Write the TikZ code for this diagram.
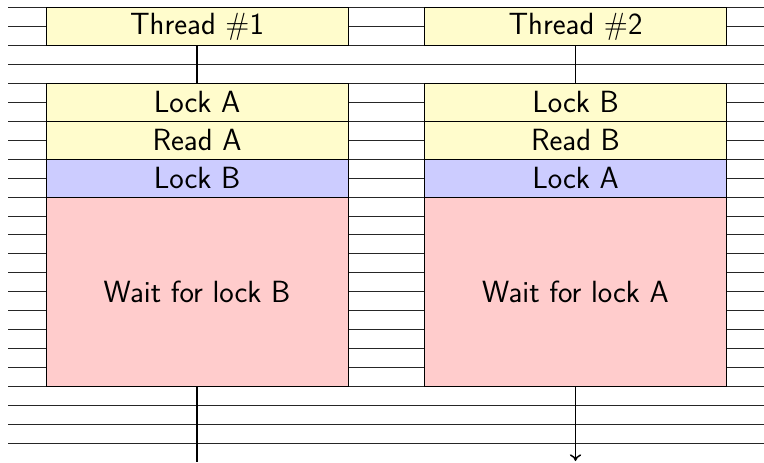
\documentclass[tikz,border=0pt]{standalone}
\usetikzlibrary{arrows.meta}
\begin{document}
\begin{tikzpicture}[x=0.75pt,y=-0.75pt,
  every node/.style={font=\fontsize{23}{27}\selectfont\sffamily},
  cell/.style={draw=black, line width=0.6pt, inner sep=0pt, outer sep=0pt,
    minimum width=226.5pt},
  short/.style={cell, minimum height=28.4pt},
  tall/.style={cell, minimum height=142pt},
  head/.style={short, fill=yellow!20},
  step1/.style={short, fill=yellow!20},
  want/.style={short, fill=blue!20},
  waiting/.style={tall, fill=red!20},
  rule/.style={line width=0.6pt, black!85},
  link/.style={line width=1.1pt}]
\useasboundingbox (0,0) rectangle (764,462);
\def\rh{18.93}
\def\yo{7.7}
% ruled background
\foreach \k in {0,...,23}
  \draw[rule] (8,{\yo+\k*\rh}) -- (764,{\yo+\k*\rh});
% thread 1
\node[head]    (t1) at (197,{\yo+1*\rh}) {Thread \#1};
\node[step1]   (a1) at (197,{\yo+5*\rh}) {Lock A};
\node[step1]   (b1) at (197,{\yo+7*\rh}) {Read A};
\node[want]    (c1) at (197,{\yo+9*\rh}) {Lock B};
\node[waiting] (d1) at (197,{\yo+15*\rh}) {Wait for lock B};
% thread 2
\node[head]    (t2) at (575.5,{\yo+1*\rh}) {Thread \#2};
\node[step1]   (a2) at (575.5,{\yo+5*\rh}) {Lock B};
\node[step1]   (b2) at (575.5,{\yo+7*\rh}) {Read B};
\node[want]    (c2) at (575.5,{\yo+9*\rh}) {Lock A};
\node[waiting] (d2) at (575.5,{\yo+15*\rh}) {Wait for lock A};
% connectors
\coordinate (e1) at (197,462);
\coordinate (e2) at (575.5,461);
\draw[link] (t1.south) -- (a1.north);
\draw[link] (t2.south) -- (a2.north);
\draw[link] (d1.south) -- (e1);
\draw[link,-{To[length=5pt,width=8.5pt]}] (d2.south) -- (e2);
\end{tikzpicture}
\end{document}
